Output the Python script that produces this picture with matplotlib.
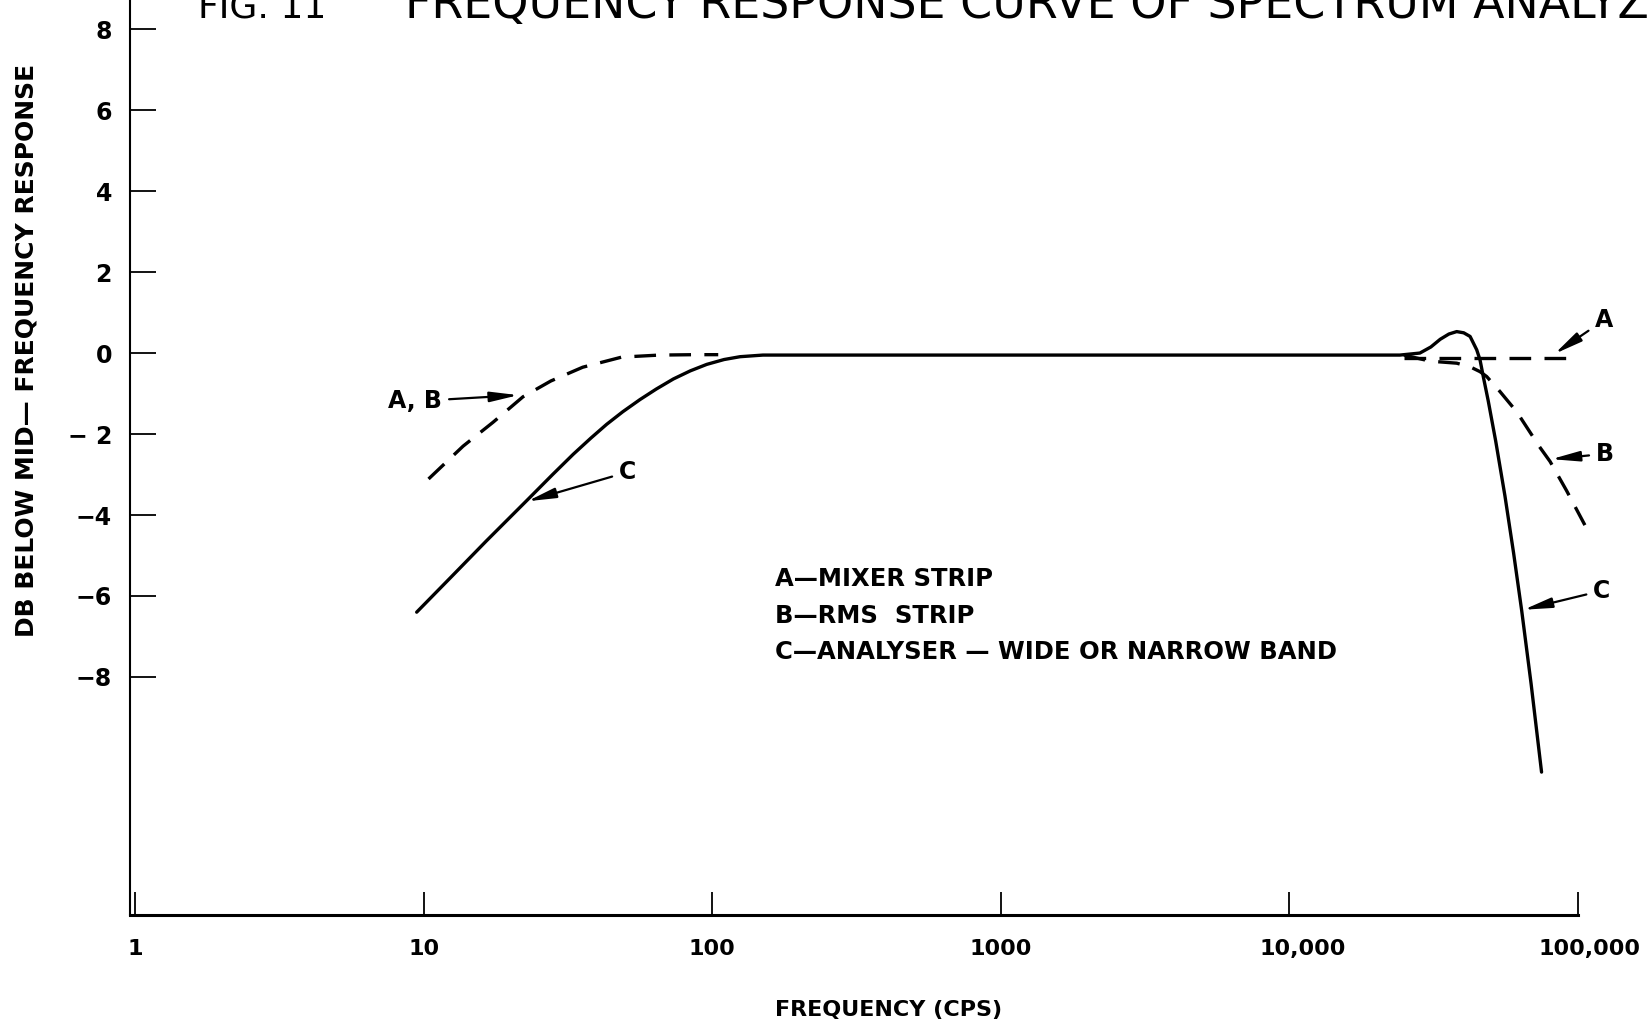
import matplotlib
matplotlib.use("Agg")
import matplotlib.pyplot as plt
from matplotlib.transforms import ScaledTranslation

# ================= DATA =================
# curve C - analyser, wide or narrow band (solid)
freq_c = [9.46, 12.5, 16.5, 22.8, 28, 33, 38, 43.1, 49, 56.2, 64, 73.4, 84, 95.8,
          110, 125, 150, 1000, 10000, 24200, 28400, 31000, 33400, 35800, 38100,
          40300, 42400, 44700, 45900, 47100, 49000, 52000, 56000, 60000, 64000,
          69000, 75000]
db_c = [-6.40, -5.52, -4.64, -3.64, -3.00, -2.50, -2.10, -1.76, -1.45, -1.15, -0.89,
        -0.64, -0.44, -0.28, -0.16, -0.09, -0.05, -0.05, -0.05, -0.05, 0.0, 0.15,
        0.34, 0.47, 0.53, 0.50, 0.41, 0.08, -0.17, -0.58, -1.18, -2.17, -3.53, -4.94,
        -6.36, -8.17, -10.35]

# curves A, B at low frequency (dashed, shared)
freq_ab = [10.4, 13.7, 17.4, 22.1, 27.6, 35.6, 48.6, 65.6, 87.3, 105]
db_ab = [-3.11, -2.30, -1.71, -1.08, -0.69, -0.35, -0.10, -0.05, -0.04, -0.04]

# curve A - mixer strip, high end (dashed)
freq_a = [25000, 99000]
db_a = [-0.13, -0.13]

# curve B - rms strip, high end (dashed)
freq_b = [25000, 30800, 38100, 42400, 45900, 48400, 53800, 61500, 73700, 80300, 91600, 106000]
db_b = [-0.05, -0.2, -0.25, -0.34, -0.46, -0.58, -0.95, -1.45, -2.31, -2.68, -3.40, -4.25]

x_ticks = [1, 10, 100, 1000, 10000, 100000]
x_labels = ['1', '10', '100', '1000', '10,000', '100,000']
y_ticks = [8, 6, 4, 2, 0, -2, -4, -6, -8]
y_labels = ['8', '6', '4', '2', '0', '\u2212 2', '\u22124', '\u22126', '\u22128']

legend_lines = ['A\u2014MIXER STRIP', 'B\u2014RMS  STRIP', 'C\u2014ANALYSER \u2014 WIDE OR NARROW BAND']

# curve callouts: (label, text position, arrow tip)
callouts = [
    ('A, B', (9.35, -1.19), (21.3, -1.04)),
    ('C', (50.9, -2.94), (22.9, -3.66)),
    ('A', (123300, 0.81), (83200, -0.02)),
    ('B', (124400, -2.49), (81100, -2.62)),
    ('C', (121300, -5.87), (65000, -6.34)),
]

# ================= PLOT =================
plt.rcParams['font.family'] = ['DejaVu Sans']
fig = plt.figure(figsize=(16.48, 10.21), dpi=100)
ax = fig.add_axes([0.0789, 0.1038, 0.9211, 0.8962])

dash = (0, (6.5, 4))
ax.plot(freq_c, db_c, color='black', lw=2.4, solid_capstyle='round', solid_joinstyle='round')
ax.plot(freq_ab, db_ab, color='black', lw=2.4, linestyle=dash)
ax.plot(freq_a, db_a, color='black', lw=2.4, linestyle=dash)
ax.plot(freq_b, db_b, color='black', lw=2.4, linestyle=dash)

ax.set_xscale('log')
ax.set_xlim(0.96, 175400)
ax.set_ylim(-13.88, 8.72)

for side in ['top', 'right']:
    ax.spines[side].set_visible(False)
ax.spines['left'].set_linewidth(1.5)
ax.spines['bottom'].set_linewidth(2.2)
ax.spines['bottom'].set_bounds(0.96, 100000)

ax.set_xticks(x_ticks)
ax.set_xticklabels(x_labels)
ax.xaxis.set_minor_locator(matplotlib.ticker.NullLocator())
ax.set_yticks(y_ticks)
ax.set_yticklabels(y_labels)
ax.tick_params(axis='x', direction='in', length=16.5, width=1.3, pad=17,
               labelsize=16)
ax.tick_params(axis='y', direction='in', length=18.5, width=1.3, pad=13,
               labelsize=17)
for lab in ax.get_xticklabels() + ax.get_yticklabels():
    lab.set_fontweight('bold')

# the comma labels sit a little right of their ticks
xl = ax.get_xticklabels()
xl[4].set_transform(xl[4].get_transform() + ScaledTranslation(0.14, 0, fig.dpi_scale_trans))
xl[5].set_transform(xl[5].get_transform() + ScaledTranslation(0.12, 0, fig.dpi_scale_trans))

ax.set_xlabel('FREQUENCY (CPS)', fontsize=16, fontweight='bold', labelpad=30)
ax.set_ylabel('DB BELOW MID\u2014 FREQUENCY RESPONSE', fontsize=18, fontweight='bold')
ax.yaxis.set_label_coords(-0.0602, 0.617)

# legend block written as plain text
legend_y = [0.4329, 0.3967, 0.3614]
for line, yy in zip(legend_lines, legend_y):
    fig.text(0.4703, yy, line, fontsize=17.5, fontweight='bold', ha='left', va='center')

for label, txt, tip in callouts:
    ax.annotate(label, xy=tip, xytext=txt, fontsize=17, fontweight='bold',
                ha='center', va='center',
                arrowprops=dict(arrowstyle='-|>,head_length=1.0,head_width=0.18',
                                color='black', lw=1.6, shrinkA=3, shrinkB=0))

# heading runs off the top and right of the sheet
fig.text(0.120, 0.9825, 'FIG. 11', fontsize=26, ha='left', va='baseline')
fig.text(0.2457, 0.9825, 'FREQUENCY RESPONSE CURVE OF SPECTRUM ANALYZER',
         fontsize=33, ha='left', va='baseline')

fig.savefig('out.png', dpi=100)
